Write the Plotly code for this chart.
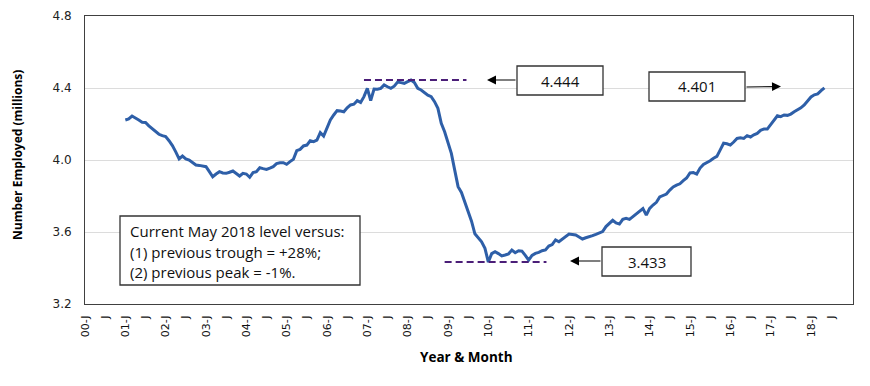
import plotly.graph_objects as go

# ---------------- data ----------------
start_month = 12  # first observation: 2001-01 (months since 2000-01)
employment = [
    # 2001
    4.222, 4.228, 4.244, 4.235, 4.222, 4.210, 4.209, 4.190, 4.176, 4.160, 4.143, 4.135,
    # 2002
    4.130, 4.107, 4.080, 4.045, 4.006, 4.022, 4.006, 4.000, 3.985, 3.972, 3.970, 3.965,
    # 2003
    3.963, 3.935, 3.907, 3.922, 3.935, 3.928, 3.926, 3.932, 3.939, 3.925, 3.911, 3.926,
    # 2004
    3.922, 3.904, 3.930, 3.935, 3.957, 3.952, 3.948, 3.955, 3.963, 3.980, 3.985, 3.985,
    # 2005
    3.976, 3.991, 4.004, 4.052, 4.059, 4.078, 4.083, 4.107, 4.102, 4.111, 4.152, 4.133,
    # 2006
    4.176, 4.222, 4.250, 4.274, 4.272, 4.268, 4.290, 4.306, 4.310, 4.330, 4.320, 4.352,
    # 2007
    4.398, 4.330, 4.394, 4.393, 4.398, 4.417, 4.407, 4.398, 4.410, 4.433, 4.430, 4.426,
    # 2008
    4.435, 4.444, 4.430, 4.398, 4.389, 4.375, 4.360, 4.352, 4.324, 4.287, 4.204, 4.157,
    # 2009
    4.093, 4.037, 3.944, 3.852, 3.820, 3.770, 3.715, 3.660, 3.590, 3.565, 3.546, 3.509,
    # 2010
    3.433, 3.480, 3.491, 3.480, 3.467, 3.472, 3.478, 3.500, 3.485, 3.496, 3.494, 3.470,
    # 2011
    3.444, 3.470, 3.481, 3.487, 3.496, 3.500, 3.522, 3.530, 3.556, 3.546, 3.560, 3.570,
    # 2012
    3.589, 3.586, 3.583, 3.572, 3.561, 3.568, 3.576, 3.580, 3.587, 3.595, 3.602, 3.630,
    # 2013
    3.648, 3.665, 3.650, 3.644, 3.670, 3.676, 3.670, 3.685, 3.700, 3.715, 3.730, 3.694,
    # 2014
    3.731, 3.750, 3.765, 3.795, 3.805, 3.811, 3.833, 3.850, 3.860, 3.868, 3.885, 3.900,
    # 2015
    3.928, 3.930, 3.922, 3.955, 3.975, 3.985, 3.996, 4.010, 4.020, 4.056, 4.093, 4.090,
    # 2016
    4.083, 4.100, 4.120, 4.123, 4.120, 4.135, 4.128, 4.140, 4.148, 4.165, 4.172, 4.172,
    # 2017
    4.198, 4.225, 4.246, 4.241, 4.250, 4.248, 4.255, 4.268, 4.278, 4.290, 4.306, 4.328,
    # 2018
    4.350, 4.362, 4.367, 4.385, 4.401,
]
months = list(range(start_month, start_month + len(employment)))

tick_months = list(range(0, 228, 6))
tick_labels = [f"{m // 12:02d}-J" if m % 12 == 0 else "J" for m in tick_months]

peak_value = 4.444
peak_span = [83, 113.5]
trough_value = 3.433
trough_span = [107, 137.3]
current_value = 4.401

note_lines = [
    "Current May 2018 level versus:",
    "(1) previous trough = +28%;",
    "(2) previous peak = -1%.",
]

# ---------------- figure ----------------
# page body has an 8px default margin; plot area target in page pixels:
OFF = 8
PL, PT, PW, PH = 85, 16, 768, 288
W, H = 870 - OFF, 386 - OFF
L, T = PL - OFF, PT - OFF
R = W - L - PW
B = H - T - PH


def px(x):
    return (x - PL) / PW


def py(y):
    return (PT + PH - y) / PH


fig = go.Figure()
fig.add_trace(go.Scatter(
    x=months, y=employment, mode="lines",
    line=dict(color="#2E5FA8", width=3), hoverinfo="skip", showlegend=False,
))
for span, val in [(peak_span, peak_value), (trough_span, trough_value)]:
    fig.add_trace(go.Scatter(
        x=span, y=[val, val], mode="lines",
        line=dict(color="#4B1E78", width=2, dash="7px,4px"), showlegend=False,
    ))

box_font = dict(family="Open Sans, Liberation Sans, sans-serif", size=15, color="#111")
shapes = []
annotations = []


def box(x0, y0, x1, y1):
    shapes.append(dict(type="rect", xref="paper", yref="paper",
                       x0=px(x0), x1=px(x1), y0=py(y1), y1=py(y0),
                       line=dict(color="#333", width=1.3), fillcolor="white", layer="above"))


def arrow(tx, ty, hx, hy):
    annotations.append(dict(xref="paper", yref="paper", axref="pixel", ayref="pixel",
                            x=px(hx), y=py(hy), ax=tx - hx, ay=ty - hy, text="",
                            showarrow=True, arrowhead=2, arrowsize=1.5, arrowwidth=1.2,
                            arrowcolor="#000"))


for (x0, y0, x1, y1, txt) in [
    (517, 66, 603, 95, f"{peak_value:.3f}"),
    (649, 72, 745, 101, f"{current_value:.3f}"),
    (602, 247, 691, 276, f"{trough_value:.3f}"),
]:
    box(x0, y0, x1, y1)
    annotations.append(dict(xref="paper", yref="paper", x=px((x0 + x1) / 2), y=py((y0 + y1) / 2),
                            text=txt, showarrow=False, font=box_font,
                            xanchor="center", yanchor="middle"))

arrow(517, 80, 487, 80)
arrow(745, 87, 781, 86.5)
arrow(602, 261, 570, 261)

box(120, 216, 360, 285)
for i, line in enumerate(note_lines):
    annotations.append(dict(xref="paper", yref="paper", x=px(128), y=py(231 + i * 20.5),
                            text=line, showarrow=False, font=box_font,
                            xanchor="left", yanchor="middle"))

annotations.append(dict(xref="paper", yref="paper", x=px(17), y=py(155), textangle=-90,
                        text="<b>Number Employed (millions)</b>", showarrow=False,
                        font=dict(family="Open Sans, sans-serif", size=12, color="#000"),
                        xanchor="center", yanchor="middle"))
annotations.append(dict(xref="paper", yref="paper", x=px(466), y=py(357),
                        text="<b>Year &amp; Month</b>", showarrow=False,
                        font=dict(family="Open Sans, sans-serif", size=13.5, color="#000"),
                        xanchor="center", yanchor="middle"))

fig.update_layout(
    width=W, height=H,
    margin=dict(l=L, r=R, t=T, b=B, autoexpand=False),
    paper_bgcolor="white", plot_bgcolor="white",
    shapes=shapes, annotations=annotations,
    showlegend=False,
)
fig.update_xaxes(
    range=[0, 228.5], tickmode="array", tickvals=tick_months, ticktext=tick_labels,
    tickangle=-90, tickfont=dict(family="DejaVu Sans, sans-serif", size=11, color="#111"),
    showgrid=False, zeroline=False, showline=True, linecolor="#404040", linewidth=1,
    mirror=True, ticks="outside", ticklen=6, tickcolor="rgba(0,0,0,0)",
)
fig.update_yaxes(
    range=[3.2, 4.8], tickmode="array", tickvals=[3.2, 3.6, 4.0, 4.4, 4.8],
    ticktext=["3.2", "3.6", "4.0", "4.4", "4.8"],
    tickfont=dict(family="DejaVu Sans, sans-serif", size=12, color="#222"),
    showgrid=True, gridcolor="#DCDCDC", gridwidth=1, zeroline=False,
    showline=True, linecolor="#404040", linewidth=1, mirror=True,
    ticks="outside", ticklen=10, tickcolor="rgba(0,0,0,0)",
)

fig.write_html("out.html")
